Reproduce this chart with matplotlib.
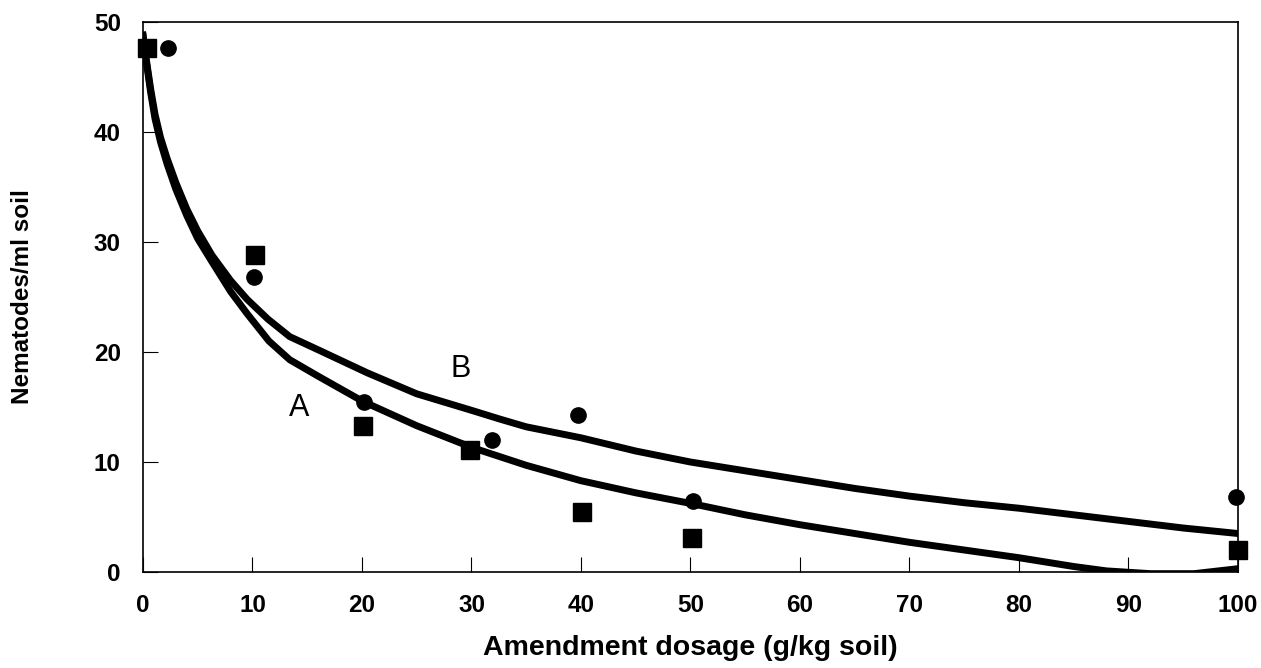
import matplotlib
matplotlib.use("Agg")
import matplotlib.pyplot as plt

plt.rcParams['font.family'] = ['Liberation Sans', 'DejaVu Sans']

# Observed data points (dosage g/kg soil, nematodes/ml soil)
sq_x = [0.4, 10.2, 20.1, 29.9, 40.1, 50.1, 100]
sq_y = [47.6, 28.8, 13.3, 11.1, 5.45, 3.1, 2.0]
ci_x = [2.3, 10.1, 20.2, 31.9, 39.7, 50.2, 99.8]
ci_y = [47.6, 26.8, 15.5, 12.0, 14.3, 6.5, 6.8]

# Fitted curves
a_x = [0, 0.3, 0.7, 1.1, 1.6, 2.2, 3, 4, 5, 6.3, 8, 9.5, 11.5, 13.4, 16, 20.1, 25,
       30.1, 35, 40, 45, 50.2, 55, 60, 65, 70, 75, 80, 85, 88, 92, 96, 100]
a_y = [48.8, 46.4, 43.6, 41.2, 39.1, 37.1, 34.8, 32.4, 30.3, 28.2, 25.5, 23.5, 21.0,
       19.3, 17.8, 15.5, 13.3, 11.3, 9.7, 8.3, 7.2, 6.2, 5.2, 4.3, 3.5, 2.7, 2.0,
       1.3, 0.5, 0.1, -0.15, -0.15, 0.3]
b_x = [0, 0.3, 0.7, 1.1, 1.6, 2.2, 3, 4, 5, 6.3, 8, 9.5, 11.4, 13.4, 16, 20.5, 25,
       30, 32.6, 35, 40, 45, 50, 55, 60, 65, 70, 75, 80, 85, 90, 95, 100]
b_y = [48.8, 46.6, 43.9, 41.6, 39.5, 37.6, 35.4, 33.0, 31.0, 28.8, 26.5, 24.8, 23.0,
       21.4, 20.2, 18.1, 16.2, 14.7, 13.9, 13.2, 12.2, 11.0, 10.0, 9.2, 8.4, 7.6,
       6.9, 6.3, 5.8, 5.2, 4.6, 4.0, 3.5]

fig = plt.figure(figsize=(12.61, 6.68), dpi=100)
ax = fig.add_axes([0.1134, 0.1437, 0.8683, 0.8233])

ax.plot(a_x, a_y, color="black", lw=5, solid_joinstyle="round", zorder=2)
ax.plot(b_x, b_y, color="black", lw=5, solid_joinstyle="round", zorder=2)
ax.plot(sq_x, sq_y, "s", color="black", ms=13, clip_on=False, zorder=3)
ax.plot(ci_x, ci_y, "o", color="black", ms=11, clip_on=False, zorder=3)

ax.text(14.3, 14.9, "A", fontsize=22, ha="center", va="center")
ax.text(29.0, 18.5, "B", fontsize=22, ha="center", va="center")

ax.set_xlim(0, 100)
ax.set_ylim(0, 50)
ax.set_xticks(range(0, 101, 10))
ax.set_yticks(range(0, 51, 10))
ax.tick_params(direction="in", length=11, width=0.8, pad=16, labelsize=17.5)
for lab in ax.get_xticklabels() + ax.get_yticklabels():
    lab.set_fontweight("bold")
for s in ax.spines.values():
    s.set_linewidth(1.2)

ax.set_xlabel("Amendment dosage (g/kg soil)", fontsize=20.5, fontweight="bold", labelpad=13)
ax.set_ylabel("Nematodes/ml soil", fontsize=17.5, fontweight="bold")
ax.yaxis.set_label_coords(-0.1, 0.5)

fig.savefig("out.png", dpi=100)
